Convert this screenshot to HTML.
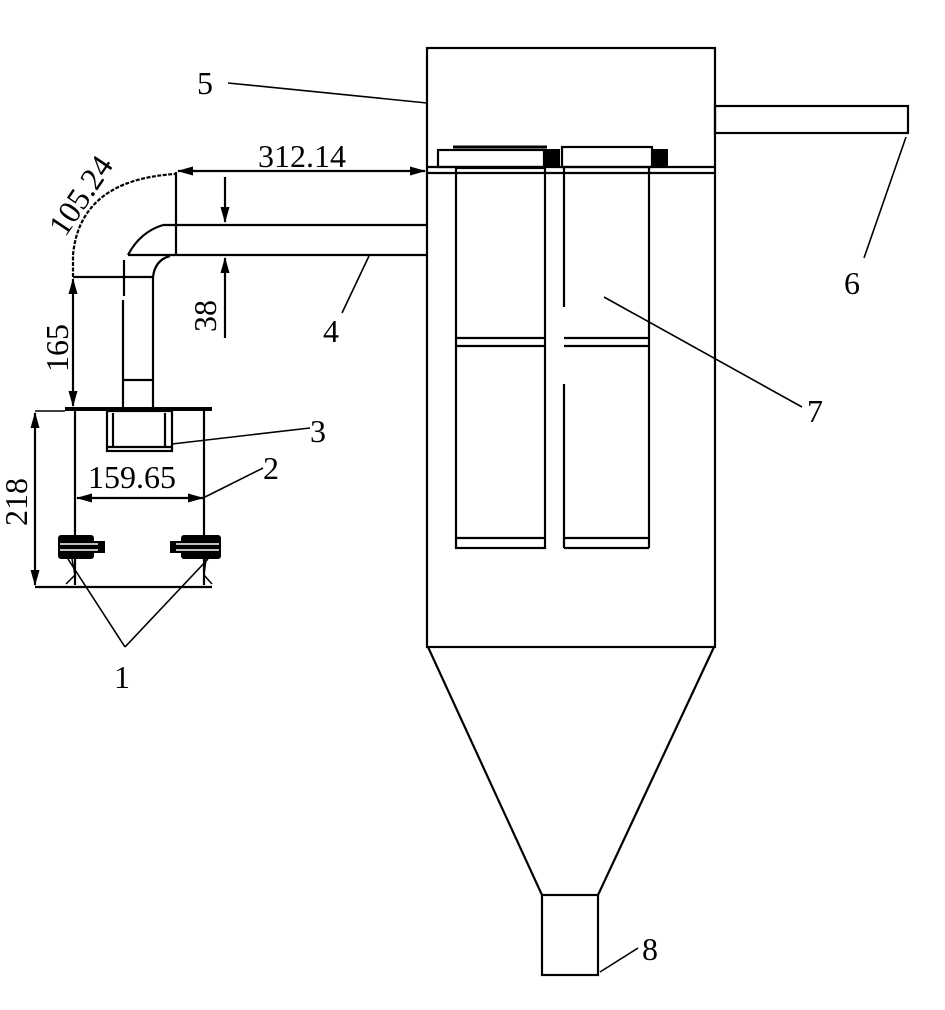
<!DOCTYPE html>
<html><head><meta charset="utf-8"><style>
html,body{margin:0;padding:0;background:#fff}
svg{display:block}
text{font-family:"Liberation Serif",serif;fill:#000}
</style></head><body>
<svg width="945" height="1010" viewBox="0 0 945 1010" xmlns="http://www.w3.org/2000/svg">
<defs>
<marker id="ar" markerWidth="16" markerHeight="9" refX="15" refY="4.5" orient="auto" markerUnits="userSpaceOnUse">
<path d="M0,0 L16,4.5 L0,9 Z" fill="#000"/></marker>
</defs>
<g stroke="#000" stroke-width="2.2" fill="none">
<rect x="427" y="48" width="288" height="599"/>
<line x1="427" y1="167" x2="715" y2="167"/>
<line x1="427" y1="173" x2="715" y2="173"/>
<rect x="456" y="168" width="89" height="380"/>
<line x1="456" y1="338" x2="545" y2="338"/>
<line x1="456" y1="346" x2="545" y2="346"/>
<line x1="456" y1="538" x2="545" y2="538"/>
<line x1="564" y1="168" x2="564" y2="307"/>
<line x1="564" y1="384" x2="564" y2="548"/>
<line x1="564" y1="548" x2="649" y2="548"/>
<line x1="649" y1="168" x2="649" y2="548"/>
<line x1="564" y1="338" x2="649" y2="338"/>
<line x1="564" y1="346" x2="649" y2="346"/>
<line x1="564" y1="538" x2="649" y2="538"/>
<rect x="438" y="150" width="106" height="17"/>
<line x1="453" y1="147" x2="547" y2="147" stroke-width="3"/>
<rect x="562" y="147" width="90" height="20"/>
<rect x="715" y="106" width="193" height="27"/>
<line x1="428" y1="647" x2="542" y2="895"/>
<line x1="714" y1="647" x2="598" y2="895"/>
<rect x="542" y="895" width="56" height="80"/>
<line x1="163" y1="225" x2="427" y2="225"/>
<line x1="128" y1="255" x2="427" y2="255"/>
<path d="M128,255 Q140,232 163,225"/>
<line x1="176" y1="172" x2="176" y2="255"/>
<path d="M73,277 L73,255 Q80,180 175,174" stroke-dasharray="4,1.5"/>
<line x1="73" y1="277" x2="153" y2="277"/>
<line x1="124" y1="260" x2="124" y2="296"/>
<line x1="123" y1="300" x2="123" y2="408"/>
<line x1="153" y1="277" x2="153" y2="408"/>
<path d="M153,277 Q155,260 170,256"/>
<line x1="123" y1="380" x2="153" y2="380"/>
<line x1="65" y1="409" x2="212" y2="409" stroke-width="4"/>
<rect x="107" y="411" width="65" height="40"/>
<line x1="113" y1="413" x2="113" y2="447"/>
<line x1="165" y1="413" x2="165" y2="447"/>
<line x1="107" y1="447" x2="172" y2="447"/>
<line x1="75" y1="411" x2="75" y2="585"/>
<line x1="204" y1="411" x2="204" y2="585"/>
<line x1="35" y1="587" x2="212" y2="587"/>
<line x1="35" y1="411" x2="65" y2="411" stroke-width="1.5"/>
<line x1="300" y1="171" x2="425" y2="171" marker-end="url(#ar)"/>
<line x1="300" y1="171" x2="178" y2="171" marker-end="url(#ar)"/>
<line x1="225" y1="177" x2="225" y2="222" marker-end="url(#ar)"/>
<line x1="225" y1="338" x2="225" y2="258" marker-end="url(#ar)"/>
<line x1="73" y1="330" x2="73" y2="279" marker-end="url(#ar)"/>
<line x1="73" y1="330" x2="73" y2="406" marker-end="url(#ar)"/>
<line x1="35" y1="500" x2="35" y2="413" marker-end="url(#ar)"/>
<line x1="35" y1="500" x2="35" y2="585" marker-end="url(#ar)"/>
<line x1="140" y1="498" x2="77" y2="498" marker-end="url(#ar)"/>
<line x1="140" y1="498" x2="203" y2="498" marker-end="url(#ar)"/>
</g>
<rect x="544" y="149" width="16" height="18" fill="#000"/>
<rect x="652" y="149" width="16" height="18" fill="#000"/>
<g fill="#000">
<rect x="58" y="535" width="36" height="24" rx="3"/>
<rect x="92" y="541" width="13" height="12"/>
<rect x="181" y="535" width="40" height="24" rx="3"/>
<rect x="170" y="541" width="13" height="12"/>
</g>
<g stroke="#fff" stroke-width="1.5">
<line x1="60" y1="544" x2="98" y2="544"/><line x1="60" y1="550" x2="98" y2="550"/>
<line x1="176" y1="544" x2="219" y2="544"/><line x1="176" y1="550" x2="219" y2="550"/>
</g>
<g stroke="#000" stroke-width="1.5" fill="none">
<path d="M72,559 L75,575 L66,584"/><path d="M206,559 L204,575 L212,584"/>
</g>
<g stroke="#000" stroke-width="1.6" fill="none">
<line x1="228" y1="83" x2="427" y2="103"/>
<line x1="906" y1="137" x2="864" y2="258"/>
<line x1="604" y1="297" x2="802" y2="407"/>
<line x1="600" y1="972" x2="638" y2="948"/>
<line x1="369" y1="256" x2="342" y2="313"/>
<line x1="172" y1="444" x2="310" y2="428"/>
<line x1="205" y1="497" x2="263" y2="468"/>
<line x1="125" y1="647" x2="68" y2="559"/>
<line x1="125" y1="647" x2="208" y2="559"/>
</g>
<g font-size="32">
<text x="197" y="94">5</text>
<text x="844" y="294">6</text>
<text x="807" y="422">7</text>
<text x="642" y="960">8</text>
<text x="323" y="342">4</text>
<text x="310" y="442">3</text>
<text x="263" y="479">2</text>
<text x="114" y="688">1</text>
<text x="258" y="167">312.14</text>
<text x="88" y="488">159.65</text>
<text transform="translate(68,372) rotate(-90)">165</text>
<text transform="translate(216,332) rotate(-90)">38</text>
<text transform="translate(27,526) rotate(-90)">218</text>
<text transform="translate(65,238) rotate(-56)">105.24</text>
</g>
</svg>
</body></html>
